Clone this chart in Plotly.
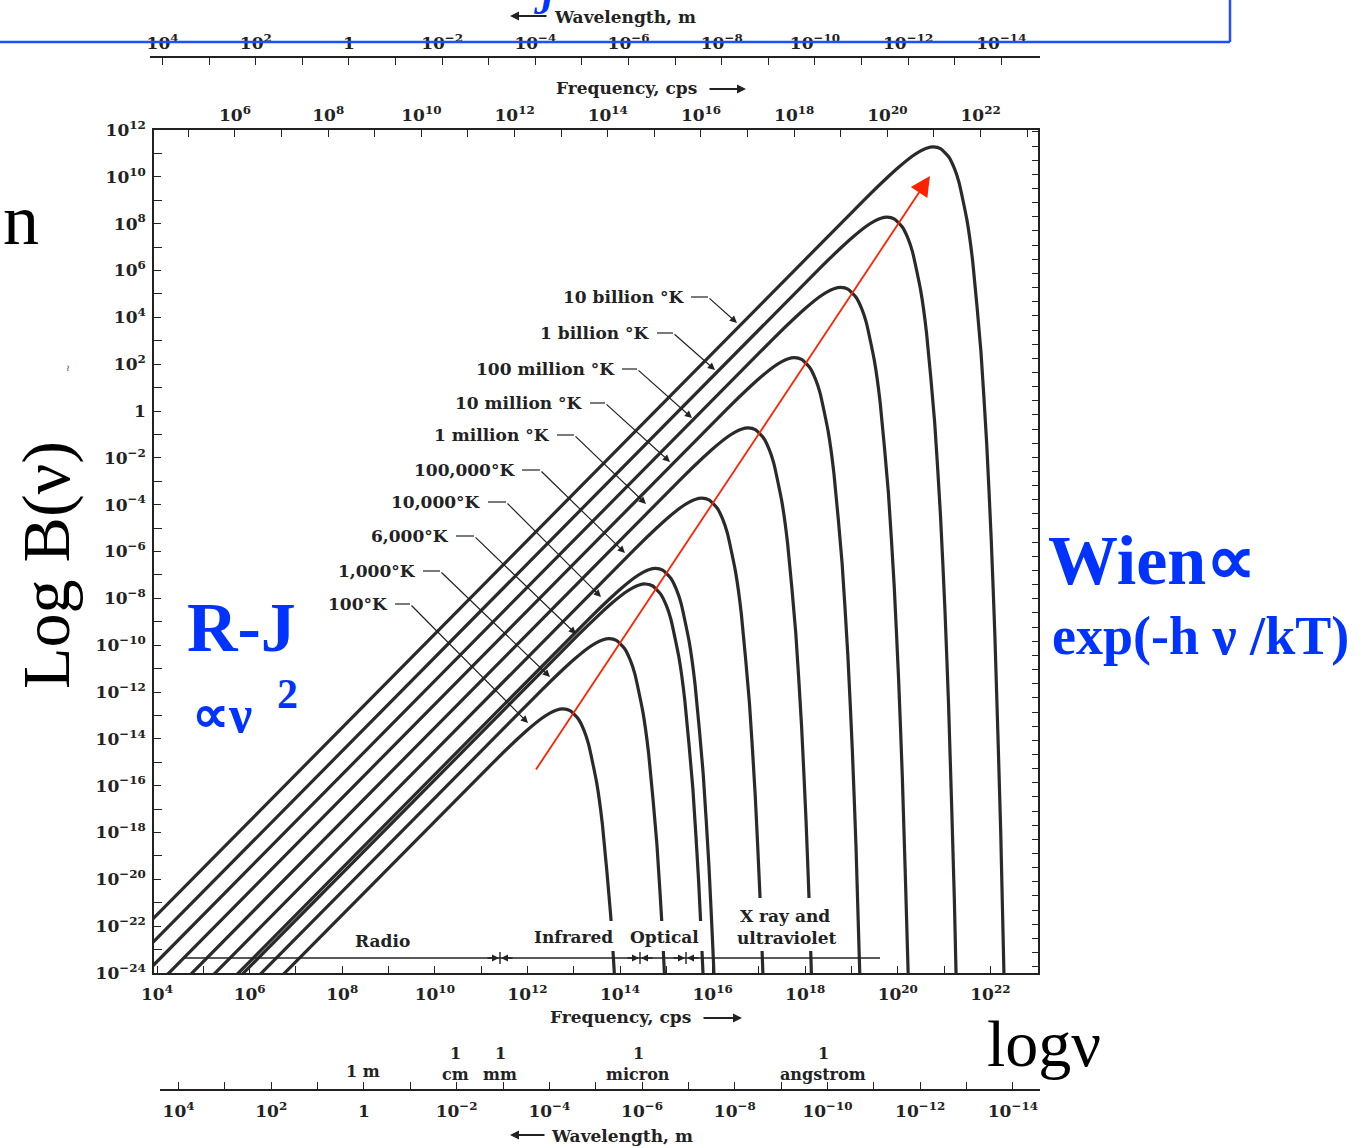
import plotly.graph_objects as go

# ---------------- data (log10 values) ----------------
# log10 frequency (cps) and log10 B(nu) along each black-body curve
nu_100 = [6.256, 11.319, 11.796, 12.018, 12.319, 12.495, 12.620, 12.769, 12.921, 13.097, 13.222, 13.319, 13.495, 13.620, 13.796, 13.921]
b_100 = [-25.0, -14.896, -13.987, -13.589, -13.109, -12.888, -12.776, -12.721, -12.797, -13.144, -13.639, -14.217, -15.860, -17.657, -21.471, -25.440]

nu_1k = [5.756, 12.319, 12.796, 13.018, 13.319, 13.495, 13.620, 13.769, 13.921, 14.097, 14.222, 14.319, 14.495, 14.620, 14.796, 14.921, 15.018]
b_1k = [-25.0, -11.896, -10.987, -10.589, -10.109, -9.888, -9.776, -9.721, -9.797, -10.144, -10.639, -11.217, -12.860, -14.657, -18.471, -22.440, -26.492]

nu_6k = [5.367, 13.097, 13.574, 13.796, 14.097, 14.273, 14.398, 14.547, 14.699, 14.875, 15.000, 15.097, 15.273, 15.398, 15.574, 15.699, 15.796, 15.875]
b_6k = [-25.0, -9.562, -8.653, -8.255, -7.775, -7.554, -7.442, -7.387, -7.463, -7.810, -8.305, -8.883, -10.526, -12.323, -16.137, -20.106, -24.158, -28.263]

nu_1e4 = [5.256, 13.319, 13.796, 14.018, 14.319, 14.495, 14.620, 14.769, 14.921, 15.097, 15.222, 15.319, 15.495, 15.620, 15.796, 15.921, 16.018, 16.097]
b_1e4 = [-25.0, -8.896, -7.987, -7.589, -7.109, -6.888, -6.776, -6.721, -6.797, -7.144, -7.639, -8.217, -9.860, -11.657, -15.471, -19.440, -23.492, -27.597]

nu_1e5 = [4.756, 14.319, 14.796, 15.018, 15.319, 15.495, 15.620, 15.769, 15.921, 16.097, 16.222, 16.319, 16.495, 16.620, 16.796, 16.921, 17.018, 17.097, 17.222]
b_1e5 = [-25.0, -5.896, -4.987, -4.589, -4.109, -3.888, -3.776, -3.721, -3.797, -4.144, -4.639, -5.217, -6.860, -8.657, -12.471, -16.440, -20.492, -24.597, -32.908]

nu_1e6 = [4.256, 15.319, 15.796, 16.018, 16.319, 16.495, 16.620, 16.769, 16.921, 17.097, 17.222, 17.319, 17.495, 17.620, 17.796, 17.921, 18.018, 18.097, 18.222]
b_1e6 = [-25.0, -2.896, -1.987, -1.589, -1.109, -0.888, -0.776, -0.721, -0.797, -1.144, -1.639, -2.217, -3.860, -5.657, -9.471, -13.440, -17.492, -21.597, -29.908]

nu_1e7 = [3.756, 16.319, 16.796, 17.018, 17.319, 17.495, 17.620, 17.769, 17.921, 18.097, 18.222, 18.319, 18.495, 18.620, 18.796, 18.921, 19.018, 19.097, 19.222]
b_1e7 = [-25.0, 0.104, 1.013, 1.411, 1.891, 2.112, 2.224, 2.279, 2.203, 1.856, 1.361, 0.783, -0.860, -2.657, -6.471, -10.440, -14.492, -18.597, -26.908]

nu_1e8 = [3.256, 17.319, 17.796, 18.018, 18.319, 18.495, 18.620, 18.769, 18.921, 19.097, 19.222, 19.319, 19.495, 19.620, 19.796, 19.921, 20.018, 20.097, 20.222, 20.319]
b_1e8 = [-25.0, 3.104, 4.013, 4.411, 4.891, 5.112, 5.224, 5.279, 5.203, 4.856, 4.361, 3.783, 2.140, 0.343, -3.471, -7.440, -11.492, -15.597, -23.908, -32.303]

nu_1e9 = [2.756, 18.319, 18.796, 19.018, 19.319, 19.495, 19.620, 19.769, 19.921, 20.097, 20.222, 20.319, 20.495, 20.620, 20.796, 20.921, 21.018, 21.097, 21.222, 21.319]
b_1e9 = [-25.0, 6.104, 7.013, 7.411, 7.891, 8.112, 8.224, 8.279, 8.203, 7.856, 7.361, 6.783, 5.140, 3.343, -0.471, -4.440, -8.492, -12.597, -20.908, -29.303]

nu_1e10 = [2.256, 19.319, 19.796, 20.018, 20.319, 20.495, 20.620, 20.769, 20.921, 21.097, 21.222, 21.319, 21.495, 21.620, 21.796, 21.921, 22.018, 22.097, 22.222, 22.319]
b_1e10 = [-25.0, 9.104, 10.013, 10.411, 10.891, 11.112, 11.224, 11.279, 11.203, 10.856, 10.361, 9.783, 8.140, 6.343, 2.529, -1.440, -5.492, -9.597, -17.908, -26.303]

curve_labels = ["100°K", "1,000°K", "6,000°K", "10,000°K", "100,000°K",
                "1 million °K", "10 million °K", "100 million °K",
                "1 billion °K", "10 billion °K"]

# tick values / labels
freq_exp = [4, 6, 8, 10, 12, 14, 16, 18, 20, 22]
freq_txt = ["10<sup>4</sup>", "10<sup>6</sup>", "10<sup>8</sup>", "10<sup>10</sup>", "10<sup>12</sup>",
            "10<sup>14</sup>", "10<sup>16</sup>", "10<sup>18</sup>", "10<sup>20</sup>", "10<sup>22</sup>"]
top_freq_exp = [6, 8, 10, 12, 14, 16, 18, 20, 22]
top_freq_txt = freq_txt[1:]
b_exp = [12, 10, 8, 6, 4, 2, 0, -2, -4, -6, -8, -10, -12, -14, -16, -18, -20, -22, -24]
b_txt = ["10<sup>12</sup>", "10<sup>10</sup>", "10<sup>8</sup>", "10<sup>6</sup>", "10<sup>4</sup>", "10<sup>2</sup>", "1",
         "10<sup>−2</sup>", "10<sup>−4</sup>", "10<sup>−6</sup>", "10<sup>−8</sup>", "10<sup>−10</sup>",
         "10<sup>−12</sup>", "10<sup>−14</sup>", "10<sup>−16</sup>", "10<sup>−18</sup>", "10<sup>−20</sup>",
         "10<sup>−22</sup>", "10<sup>−24</sup>"]
wl_exp = [4, 2, 0, -2, -4, -6, -8, -10, -12, -14]
wl_txt = ["10<sup>4</sup>", "10<sup>2</sup>", "1", "10<sup>−2</sup>", "10<sup>−4</sup>", "10<sup>−6</sup>",
          "10<sup>−8</sup>", "10<sup>−10</sup>", "10<sup>−12</sup>", "10<sup>−14</sup>"]

# ---------------- figure ----------------
W, H = 1367, 1148


def PX(x):
    return x / W


def PY(y):
    return 1 - y / H


INK = "#222222"
CURVE = "#2a2a2a"
BLUE = "#0033ff"
SERIF_B = dict(family="DejaVu Serif", size=17, color=INK, weight="bold")

fig = go.Figure()
curves = [(nu_100, b_100), (nu_1k, b_1k), (nu_6k, b_6k), (nu_1e4, b_1e4), (nu_1e5, b_1e5),
          (nu_1e6, b_1e6), (nu_1e7, b_1e7), (nu_1e8, b_1e8), (nu_1e9, b_1e9), (nu_1e10, b_1e10)]
for (nu, b), name in zip(curves, curve_labels):
    fig.add_trace(go.Scatter(x=nu, y=b, mode="lines", name=name,
                             line=dict(color=CURVE, width=3.2, shape="spline", smoothing=0.5),
                             hoverinfo="skip", showlegend=False, xaxis="x", yaxis="y"))

# invisible anchors so that the extra axes are drawn
for xa, ya, xv, yv in [("x2", "y", 10, 0), ("x3", "y", 0, 0), ("x4", "y", 0, 0), ("x", "y2", 10, 10)]:
    fig.add_trace(go.Scatter(x=[xv], y=[yv], mode="markers", marker=dict(opacity=0),
                             xaxis=xa, yaxis=ya, hoverinfo="skip", showlegend=False))

common = dict(showgrid=False, zeroline=False, showline=True, linecolor=INK, linewidth=1.6,
              ticks="inside", ticklen=7, tickwidth=1.3, tickcolor=INK, tickfont=SERIF_B)

fig.update_layout(
    width=W, height=H, autosize=False,
    margin=dict(l=0, r=0, t=0, b=0, pad=0, autoexpand=False),
    paper_bgcolor="white", plot_bgcolor="rgba(0,0,0,0)",
    xaxis=dict(domain=[PX(154), PX(1038)], range=[3.935, 23.028], anchor="y", side="bottom",
               tickmode="array", tickvals=freq_exp, ticktext=freq_txt,
               minor=dict(tickvals=list(range(5, 23, 2)), ticks="inside", ticklen=7, tickwidth=1.3, tickcolor=INK),
               ticklabelstandoff=5, **common),
    xaxis2=dict(overlaying="x", side="top", anchor="y", range=[4.262, 23.232],
                tickmode="array", tickvals=top_freq_exp, ticktext=top_freq_txt,
                minor=dict(tickvals=list(range(5, 24, 2)), ticks="inside", ticklen=7, tickwidth=1.3, tickcolor=INK),
                ticklabelstandoff=0, **common),
    xaxis3=dict(anchor="free", position=PY(57), domain=[PX(150), PX(1040)], side="top",
                range=[4.27, -14.83], tickmode="array", tickvals=wl_exp, ticktext=wl_txt,
                minor=dict(tickvals=[3, 1, -1, -3, -5, -7, -9, -11, -13], ticks="inside", ticklen=7,
                           tickwidth=1.3, tickcolor=INK),
                ticklabelstandoff=0, **common),
    xaxis4=dict(anchor="free", position=PY(1090), domain=[PX(160), PX(1040)], side="bottom",
                range=[4.40, -14.585], tickmode="array", tickvals=wl_exp, ticktext=wl_txt,
                minor=dict(tickvals=[3, 1, -1, -3, -5, -7, -9, -11, -13], ticks="inside", ticklen=7,
                           tickwidth=1.3, tickcolor=INK),
                ticklabelstandoff=6, **common),
    yaxis=dict(domain=[PY(973), PY(130)], range=[-24.0, 12.0], anchor="x", side="left",
               tickmode="array", tickvals=b_exp, ticktext=b_txt,
               minor=dict(tickvals=list(range(-23, 12, 2)), ticks="inside", ticklen=8, tickwidth=1.3, tickcolor=INK),
               ticklabelstandoff=3, **common),
    yaxis2=dict(overlaying="y", side="right", anchor="x", range=[0, 59.58], tickmode="linear",
                tick0=0.445, dtick=1, showticklabels=False, showgrid=False, zeroline=False,
                showline=True, linecolor=INK, linewidth=1.6, ticks="inside", ticklen=6,
                tickwidth=1.2, tickcolor=INK),
)

annotations = []
shapes = []


def text(t, x, y, size=17, xanchor="center", color=INK, family="DejaVu Serif", weight="bold",
         angle=0, style="normal"):
    annotations.append(dict(text=t, x=PX(x), y=PY(y), xref="paper", yref="paper", showarrow=False,
                            xanchor=xanchor, yanchor="middle", textangle=angle,
                            font=dict(family=family, size=size, color=color, weight=weight, style=style)))


def arrow(x0, y0, x1, y1, color=INK, width=1.2, size=1.0, head=2):
    # arrow from (x0,y0) to head at (x1,y1), pixel coordinates
    annotations.append(dict(text="", x=PX(x1), y=PY(y1), xref="paper", yref="paper", showarrow=True,
                            ax=x0 - x1, ay=y0 - y1, arrowhead=head, arrowsize=size, arrowwidth=width,
                            arrowcolor=color, standoff=0))


def line(x0, y0, x1, y1, color=INK, width=1.2, layer="above"):
    shapes.append(dict(type="line", xref="paper", yref="paper", x0=PX(x0), y0=PY(y0), x1=PX(x1),
                       y1=PY(y1), line=dict(color=color, width=width), layer=layer))


def box(x0, y0, x1, y1):
    shapes.append(dict(type="rect", xref="paper", yref="paper", x0=PX(x0), y0=PY(y0), x1=PX(x1),
                       y1=PY(y1), fillcolor="white", line=dict(width=0), layer="above"))


# white gaps in curves behind band labels
box(528, 921, 618, 951)
box(626, 921, 707, 951)
box(734, 898, 843, 951)

# temperature labels with leaders (right edge of text, y, end of horizontal leg, arrow tip)
label_pos = [(390, 604, 410, 528, 723), (418, 571, 440, 550, 677), (451, 536, 474, 576, 634),
             (483, 502, 506, 601, 597), (517, 470, 540, 625, 553), (552, 435, 574, 646, 504),
             (585, 403, 605, 670, 462), (617, 369, 637, 692, 418), (652, 333, 673, 715, 370),
             (686, 297, 708, 737, 323)]
for lab, (xr, yy, xh, xt, yt) in zip(curve_labels, label_pos):
    text(lab, xr, yy, size=17, xanchor="right")
    line(xr + 5, yy, xh, yy, width=1.2)
    arrow(xh, yy, xt, yt, width=1.2, size=1.2)

# band axis
line(183, 958, 880, 958, width=1.4)
for bx in [500, 640, 686]:
    line(bx, 952, bx, 964, width=1.4)
    arrow(bx - 14, 958, bx - 1, 958, width=1.4, size=1.0)
    arrow(bx + 14, 958, bx + 1, 958, width=1.4, size=1.0)
text("Radio", 382, 941, size=17)
text("Infrared", 573, 937, size=17)
text("Optical", 664, 937, size=17)
text("X ray and", 785, 916, size=17)
text("ultraviolet", 787, 938, size=17)

# axis titles
text("Frequency, cps", 626, 88, size=17)
arrow(708, 89, 746, 89, width=1.8, size=1.0)
text("Frequency, cps", 620, 1017, size=17)
arrow(702, 1018, 742, 1018, width=1.8, size=1.0)
text("Wavelength, m", 625, 17, size=17)
arrow(548, 16, 510, 16, width=1.8, size=1.0)
text("Wavelength, m", 622, 1136, size=17)
arrow(546, 1135, 510, 1135, width=1.8, size=1.0)

# named wavelengths
text("1 m", 363, 1071, size=16)
for lx, unit in [(455, "cm"), (500, "mm"), (638, "micron"), (823, "angstrom")]:
    text("1", lx, 1053, size=16)
    text(unit, lx, 1074, size=16)

# slide overlays
text("Log B(ν)", 46, 565, size=68, family="Liberation Serif", weight="normal", angle=-90, color="#000000")
text("n", 21, 220, size=72, family="Liberation Serif", weight="normal", color="#000000")
text("logν", 1044, 1043, size=66, family="Liberation Serif", weight="normal", color="#000000")
text("~", 68, 368, size=9, color="#555555", weight="normal", angle=-90)
text("R-J", 241, 627, size=70, family="Liberation Serif", color=BLUE)
text("∝ν", 222, 714, size=52, family="Liberation Serif", color=BLUE)
text("2", 287, 694, size=42, family="Liberation Serif", color=BLUE)
text("Wien∝", 1152, 561, size=70, family="Liberation Serif", color=BLUE)
text("exp(-h ν /kT)", 1200, 636, size=54, family="Liberation Serif", color=BLUE)
text("J", 544, 0, size=40, family="Liberation Serif", color=BLUE, style="italic")

# red arrow
arrow(535, 771, 930, 176, color="#ff2200", width=1.8, size=2.2)

# blue slide frame
line(0, 42, 1230, 42, color="#1f50ff", width=2.5)
line(1230, 0, 1230, 42, color="#1f50ff", width=2.5)

fig.update_layout(annotations=annotations, shapes=shapes)
fig.write_html("out.html", config={"displayModeBar": False, "responsive": False},
               post_script="document.body.style.margin='0';document.body.style.padding='0';"
                           "document.body.style.overflow='hidden';")
